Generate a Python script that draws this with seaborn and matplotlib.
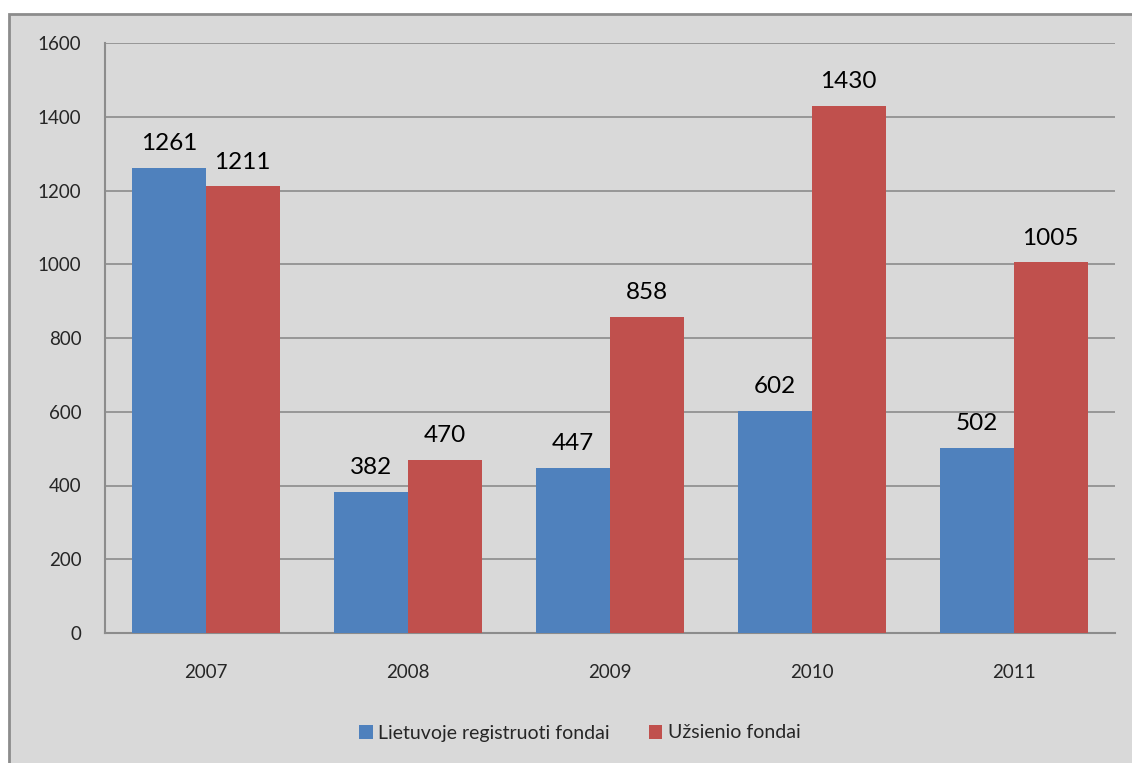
import matplotlib
matplotlib.use("Agg")
import matplotlib.pyplot as plt
from matplotlib.patches import Rectangle
import pandas as pd
import seaborn as sns

# Fund counts per year
years = ["2007", "2008", "2009", "2010", "2011"]
lt_funds = [1261, 382, 447, 602, 502]
foreign_funds = [1211, 470, 858, 1430, 1005]
series_names = ["Lietuvoje registruoti fondai", "Užsienio fondai"]
y_ticks = [0, 200, 400, 600, 800, 1000, 1200, 1400, 1600]

BLUE = "#4F81BD"
RED = "#C0504D"
PANEL = "#D9D9D9"
LINE = "#8C8C8C"

df = pd.DataFrame({
    "year": years * 2,
    "value": lt_funds + foreign_funds,
    "series": [series_names[0]] * len(years) + [series_names[1]] * len(years),
})

sns.set_style("white")
plt.rcParams["font.family"] = ["Lato", "DejaVu Sans"]

W, H = 1132, 763
fig = plt.figure(figsize=(W / 100, H / 100), dpi=100, facecolor="white")

# grey chart panel with border (runs off the right and bottom edges)
fig.patches.append(Rectangle((9 / W, -0.1), 1.2, (1 - 14 / H) + 0.1,
                             transform=fig.transFigure, facecolor=PANEL,
                             edgecolor=LINE, linewidth=2, zorder=-10))

ax = fig.add_axes([105 / W, 1 - 633 / H, (1115 - 105) / W, (633 - 43) / H])
ax.set_facecolor("none")

sns.barplot(data=df, x="year", y="value", hue="series",
            palette=[BLUE, RED], width=0.728, saturation=1,
            linewidth=0, ax=ax, zorder=3)

for cont, vals in zip(ax.containers, [lt_funds, foreign_funds]):
    ax.bar_label(cont, labels=[str(v) for v in vals], padding=10,
                 fontsize=17.5, color="black")

ax.set_xlim(-0.5, len(years) - 0.5)
ax.set_ylim(0, 1600)
ax.set_yticks(y_ticks)
ax.yaxis.grid(True, color=LINE, linewidth=1.2, zorder=0)
ax.set_axisbelow(True)
ax.set_xlabel("")
ax.set_ylabel("")
ax.tick_params(axis="y", length=0, pad=17, labelsize=13.5)
ax.tick_params(axis="x", length=0, pad=22, labelsize=13.5)

for side in ["top", "right"]:
    ax.spines[side].set_visible(False)
for side in ["left", "bottom"]:
    ax.spines[side].set_color(LINE)
    ax.spines[side].set_linewidth(1.5)

ax.legend_.remove()
handles = [Rectangle((0, 0), 1, 1, facecolor=c, edgecolor="none") for c in (BLUE, RED)]
fig.legend(handles, series_names, loc="center", bbox_to_anchor=(580 / W, 1 - 733 / H),
           ncol=2, frameon=False, fontsize=14, handlelength=0.7, handleheight=0.7,
           handletextpad=0.3, columnspacing=2.0)

fig.savefig("out.png", dpi=100, facecolor="white")
